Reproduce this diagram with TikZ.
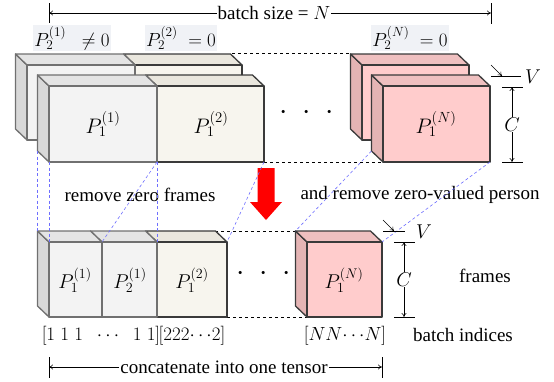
\RequirePackage{fix-cm}
\documentclass[tikz,border=0pt]{standalone}
\usepackage{fontspec}
\setmainfont{Liberation Serif}
\usetikzlibrary{arrows.meta}
\definecolor{gfront}{HTML}{F3F3F3}
\definecolor{gtop}{HTML}{E4E4E4}
\definecolor{gside}{HTML}{D8D8D8}
\definecolor{gedge}{HTML}{707070}
\definecolor{cfront}{HTML}{F7F5EE}
\definecolor{ctop}{HTML}{EAE7DE}
\definecolor{cedge}{HTML}{3A3A3A}
\definecolor{pfront}{HTML}{FFCCCC}
\definecolor{ptop}{HTML}{EFC0C0}
\definecolor{pside}{HTML}{E4B4B4}
\definecolor{labelbg}{HTML}{F0F2F6}
\definecolor{bluedash}{HTML}{6E6EFF}
% #1 x0, #2 x1, #3 ytop, #4 ybottom, #5 front colour, #6 top colour, #7 edge colour
\newcommand{\mycube}[7]{%
  \filldraw[fill=#6,draw=#7,facepen] (#1,#3) -- (#1-11.5,#3-11) -- (#2-11.5,#3-11) -- (#2,#3) -- cycle;
  \filldraw[fill=#5,draw=#7,facepen] (#1,#3) rectangle (#2,#4);
}
% #1 x0, #2 ytop, #3 ybottom, #4 fill, #5 edge
\newcommand{\myside}[5]{%
  \filldraw[fill=#4,draw=#5,facepen] (#1,#2) -- (#1-11.5,#2-11) -- (#1-11.5,#3-11) -- (#1,#3) -- cycle;
}
\begin{document}
\begin{tikzpicture}[x=1pt,y=-1pt,
  every node/.style={font=\fontsize{19}{22}\selectfont, inner sep=1pt},
  bigmath/.style={font=\fontsize{21}{24}\selectfont},
  midmath/.style={font=\fontsize{20}{23}\selectfont},
  dotsnode/.style={font=\fontsize{30}{30}\selectfont},
  facepen/.style={line width=1.3pt, line join=round},
  blackdash/.style={draw=black, line width=0.6pt, dash pattern=on 3pt off 3pt},
  bluedashed/.style={draw=bluedash, line width=0.6pt, dash pattern=on 3pt off 2.5pt},
  dimline/.style={draw=black, line width=0.6pt},
  labelbox/.style={fill=labelbg, inner sep=1.5pt},
  tip/.style={-{To[length=4pt,width=5pt]}}
]
\useasboundingbox (0,0) rectangle (554,381);

% ---------- upper: black dashed guides ----------
\coordinate (ubt) at (232,53);
\coordinate (unt) at (350,53);
\coordinate (ubb) at (264,162);
\coordinate (unb) at (383,162);
\draw[blackdash] (ubt) -- (unt);
\draw[blackdash] (ubb) -- (unb);

% ---------- upper back row (P2) ----------
\myside{27}{65}{140}{gside}{gedge}
\mycube{135}{242}{65}{140}{cfront}{ctop}{cedge}
\mycube{27}{135}{65}{140}{gfront}{gtop}{gedge}
\myside{362}{65}{140}{pside}{cedge}
\mycube{362}{469}{65}{140}{pfront}{ptop}{cedge}

% ---------- upper front row (P1) ----------
\myside{49}{86}{162}{gside}{gedge}
\mycube{157}{264}{86}{162}{cfront}{ctop}{cedge}
\mycube{49}{157}{86}{162}{gfront}{gtop}{gedge}
\myside{383}{86}{162}{pside}{cedge}
\mycube{383}{490}{86}{162}{pfront}{ptop}{cedge}

\node[bigmath] (p11) at (103,124) {$P_1^{(1)}$};
\node[bigmath] (p12) at (211,124) {$P_1^{(2)}$};
\node[bigmath] (p1N) at (436,124) {$P_1^{(N)}$};
\node[dotsnode] (udots) at (307,113) {$\cdot\hspace{8pt}\cdot\hspace{8pt}\cdot$};

% ---------- labels above ----------
\node[labelbox] (l21) at (72,38) {$P_2^{(1)}\;\;\neq 0$};
\node[labelbox] (l22) at (181,38) {$P_2^{(2)}\;= 0$};
\node[labelbox] (l2N) at (410,38) {$P_2^{(N)}\;= 0$};

% ---------- batch size arrow ----------
\coordinate (bsL) at (49,13);
\coordinate (bsR) at (491,13);
\node[fill=white] (bs) at (274,13) {batch size = $N$};
\draw[dimline, tip] (bs.west) -- (bsL);
\draw[dimline, tip] (bs.east) -- (bsR);
\draw[dimline] (49,3) -- (49,23);
\draw[dimline] (491,3) -- (491,24);

% ---------- upper V / C ----------
\coordinate (uva) at (491,65);
\coordinate (uvb) at (502,76);
\draw[dimline, tip] (uva) -- (uvb);
\draw[dimline] (491,76) -- (521,76);
\draw[dimline] (502,87) -- (523,87);
\draw[dimline] (502,162) -- (523,162);
\node[midmath] (uV) at (533,77) {$V$};
\coordinate (ucT) at (512,87);
\coordinate (ucB) at (512,162);
\draw[dimline, {To[length=4pt,width=5pt]}-{To[length=4pt,width=5pt]}] (ucT) -- node[midmath, fill=white, inner sep=1pt] (uC) {$C$} (ucB);

% ---------- red arrow ----------
\filldraw[fill=red, draw=none] (257.5,168) -- (274.5,168) -- (274.5,202) -- (282,202) -- (266,220) -- (250,202) -- (257.5,202) -- cycle;

% ---------- middle texts ----------
\node (t1) at (140,195) {remove zero frames};
\node (t2) at (420,195) {and remove zero-valued person};

% ---------- lower: black dashed guides ----------
\coordinate (dbt) at (215,231);
\coordinate (dnt) at (296,231);
\coordinate (dbb) at (227,317);
\coordinate (dnb) at (307,317);
\draw[blackdash] (dbt) -- (dnt);
\draw[blackdash] (dbb) -- (dnb);

% ---------- lower row ----------
\myside{49}{242}{317}{gside}{gedge}
\mycube{157}{227}{242}{317}{cfront}{ctop}{cedge}
\mycube{102}{157}{242}{317}{gfront}{gtop}{gedge}
\mycube{49}{102}{242}{317}{gfront}{gtop}{gedge}
\myside{307}{242}{317}{pside}{cedge}
\mycube{307}{382}{242}{317}{pfront}{ptop}{cedge}

\node[midmath] (q11) at (75,280) {$P_1^{(1)}$};
\node[midmath] (q21) at (130,280) {$P_2^{(1)}$};
\node[midmath] (q12) at (192,280) {$P_1^{(2)}$};
\node[midmath] (q1N) at (344,280) {$P_1^{(N)}$};
\node[dotsnode] (ddots) at (264,274) {$\cdot\hspace{8pt}\cdot\hspace{8pt}\cdot$};

% ---------- blue dashed correspondence lines ----------
\coordinate (a1) at (37.5,151);  \coordinate (b1) at (37.5,231);
\coordinate (a2) at (49,162);    \coordinate (b2) at (49,242);
\coordinate (a3) at (157,162);   \coordinate (b3) at (102,242);
\coordinate (b4) at (157,242);
\coordinate (a5) at (264,162);   \coordinate (b5) at (227,242);
\coordinate (a6) at (371.5,151); \coordinate (b6) at (295.5,231);
\coordinate (a7) at (490,162);   \coordinate (b7) at (382,242);
\draw[bluedashed] (a1) -- (b1);
\draw[bluedashed] (a2) -- (b2);
\draw[bluedashed] (a3) -- (b3);
\draw[bluedashed] (a3) -- (b4);
\draw[bluedashed] (a5) -- (b5);
\draw[bluedashed] (a6) -- (b6);
\draw[bluedashed] (a7) -- (b7);

% ---------- lower V / C ----------
\coordinate (dva) at (383,220);
\coordinate (dvb) at (394,231);
\draw[dimline, tip] (dva) -- (dvb);
\draw[dimline] (383,231) -- (405,231);
\draw[dimline] (394,242) -- (415,242);
\draw[dimline] (394,317) -- (415,317);
\node[midmath] (dV) at (424,232) {$V$};
\coordinate (dcT) at (404,242);
\coordinate (dcB) at (404,317);
\draw[dimline, {To[length=4pt,width=5pt]}-{To[length=4pt,width=5pt]}] (dcT) -- node[midmath, fill=white, inner sep=1pt] (dC) {$C$} (dcB);

\node (fr) at (485,276) {frames};
\node (bi) at (463,335) {batch indices};

% ---------- batch indices ----------
\node (i1) at (101,336) {$[1\;1\;1\;\;\cdots\;\;1\;1]$};
\node (i2) at (192,336) {$[222{\cdots}2]$};
\node (iN) at (345,336) {$[NN{\cdots}N]$};

% ---------- concatenate arrow ----------
\coordinate (ccL) at (49,367);
\coordinate (ccR) at (382,367);
\node[fill=white] (cc) at (224,367) {concatenate into one tensor};
\draw[dimline, tip] (cc.west) -- (ccL);
\draw[dimline, tip] (cc.east) -- (ccR);
\draw[dimline] (49,357) -- (49,378);
\draw[dimline] (382,357) -- (382,378);
\end{tikzpicture}
\end{document}
